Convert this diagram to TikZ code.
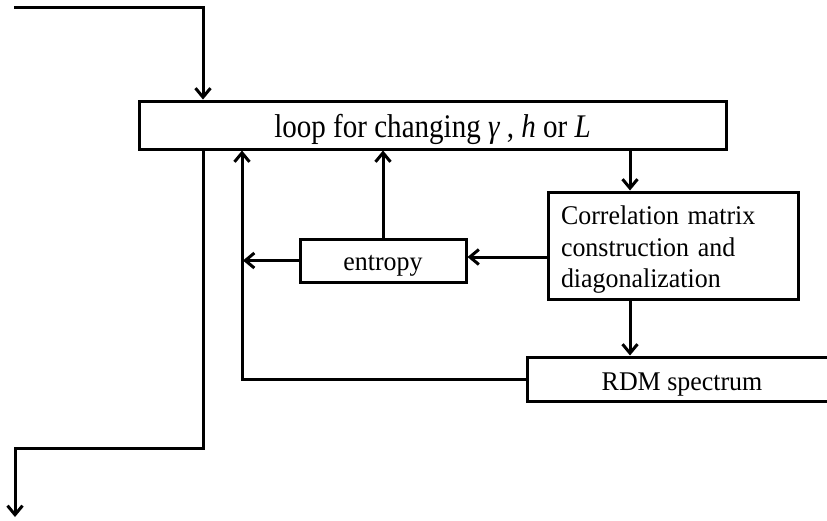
\documentclass[tikz,border=0pt]{standalone}
\usepackage{graphicx}
\usepackage{fontspec}
\setmainfont{Liberation Serif}
\usetikzlibrary{arrows.meta}
\newcommand{\sqz}[1]{\scalebox{0.96}[1]{#1}}
\begin{document}
\begin{tikzpicture}[x=1pt,y=-1pt,
  box/.style={draw, line width=3pt, inner sep=0pt, font=\fontsize{27}{31.5}\selectfont},
  conn/.style={line width=3pt},
  arr/.style={conn, -{Straight Barb[length=9pt,width=15pt]}}]
\useasboundingbox (0,0) rectangle (827,520);
\node[box, minimum width=587pt, minimum height=48pt, font=\fontsize{33}{38}\selectfont, text height=24.7pt, text depth=0pt] (loop) at (432.5,125) {\scalebox{0.88}[1]{loop for changing {\itshape γ} , {\itshape h} or {\itshape L}}};
\node[box, minimum width=250pt, minimum height=107pt, text width=224pt, align=left, inner xsep=13pt, text height=60pt, text depth=38.5pt] (corr) at (673,245.5) {\sqz{\begin{tabular}{@{}l@{}}Correlation matrix\\construction and\\diagonalization\end{tabular}}};
\node[box, minimum width=166pt, minimum height=43pt, text height=19pt, text depth=0pt] (entropy) at (383,260.5) {\sqz{entropy}};
\node[box, minimum width=310pt, minimum height=44pt, text height=22pt, text depth=0pt] (rdm) at (682,379) {\sqz{RDM spectrum}};
\coordinate (tl) at (14,7);
\coordinate (tc) at (203,7);
\coordinate (bc) at (203,448);
\coordinate (bl) at (15,448);
\coordinate (be) at (15,517);
\coordinate (cx) at (630,0);
\coordinate (y257) at (0,257);
\coordinate (ea) at (243,0);
\coordinate (rv) at (242,379);
\draw[arr] (tl) -- (tc) -- (tc |- loop.north);
\draw[arr] (loop.south -| bc) -- (bc) -- (bl) -- (be);
\draw[arr] (loop.south -| cx) -- (corr.north -| cx);
\draw[arr] (corr.south -| cx) -- (rdm.north -| cx);
\draw[arr] (corr.west |- y257) -- (entropy.east |- y257);
\draw[arr] (entropy.west) -- (entropy.west -| ea);
\draw[arr] (entropy.north) -- (entropy.north |- loop.south);
\draw[arr] (rdm.west) -- (rv) -- (rv |- loop.south);
\end{tikzpicture}
\end{document}
